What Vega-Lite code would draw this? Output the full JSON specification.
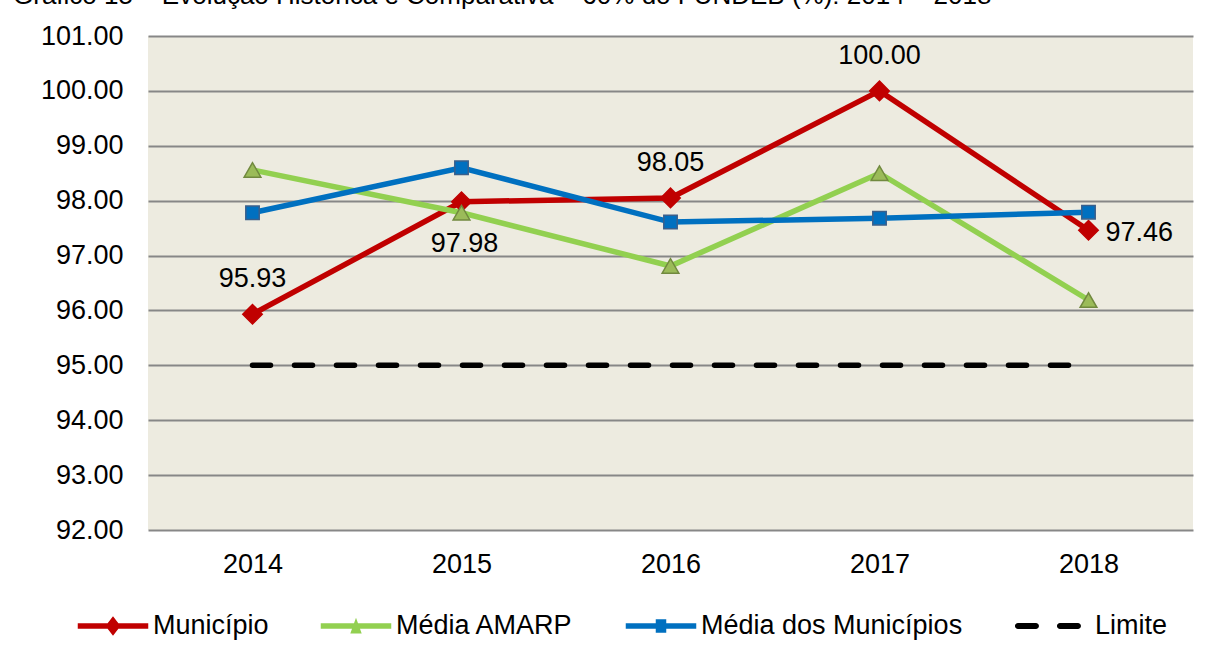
{
  "$schema": "https://vega.github.io/schema/vega-lite/v6.json",
  "width": 1045,
  "height": 494,
  "autosize": {"type": "none"},
  "padding": {"left": 148, "top": 36, "right": 13, "bottom": 141},
  "background": "white",
  "title": {
    "text": "Gráfico 15 – Evolução Histórica e Comparativa – 60% do FUNDEB (%): 2014 – 2018",
    "anchor": "start",
    "frame": "group",
    "dx": -135,
    "offset": 0,
    "dy": 8,
    "baseline": "alphabetic",
    "font": "Liberation Sans",
    "fontSize": 26,
    "fontWeight": "normal",
    "color": "black"
  },
  "config": {
    "view": {"fill": "#EDEBE0", "stroke": null},
    "font": "Liberation Sans",
    "axis": {"labelFont": "Liberation Sans", "labelFontSize": 27, "labelColor": "black"}
  },
  "data": {
    "values": [
      {"year": "2014", "series": "Município", "value": 95.93},
      {"year": "2015", "series": "Município", "value": 97.98},
      {"year": "2016", "series": "Município", "value": 98.05},
      {"year": "2017", "series": "Município", "value": 100.00},
      {"year": "2018", "series": "Município", "value": 97.46},
      {"year": "2014", "series": "Média AMARP", "value": 98.56},
      {"year": "2015", "series": "Média AMARP", "value": 97.78},
      {"year": "2016", "series": "Média AMARP", "value": 96.81},
      {"year": "2017", "series": "Média AMARP", "value": 98.50},
      {"year": "2018", "series": "Média AMARP", "value": 96.19},
      {"year": "2014", "series": "Média dos Municípios", "value": 97.78},
      {"year": "2015", "series": "Média dos Municípios", "value": 98.60},
      {"year": "2016", "series": "Média dos Municípios", "value": 97.61},
      {"year": "2017", "series": "Média dos Municípios", "value": 97.68},
      {"year": "2018", "series": "Média dos Municípios", "value": 97.79},
      {"year": "2014", "series": "Limite", "value": 95},
      {"year": "2015", "series": "Limite", "value": 95},
      {"year": "2016", "series": "Limite", "value": 95},
      {"year": "2017", "series": "Limite", "value": 95},
      {"year": "2018", "series": "Limite", "value": 95}
    ]
  },
  "encoding": {
    "x": {
      "field": "year", "type": "ordinal",
      "scale": {"type": "point", "padding": 0.5},
      "axis": {"title": null, "labelAngle": 0, "domain": false, "ticks": false, "labelPadding": 21, "grid": false}
    },
    "y": {
      "field": "value", "type": "quantitative",
      "scale": {"domain": [92, 101], "nice": false, "zero": false},
      "axis": {"title": null, "format": ".2f", "values": [92, 93, 94, 95, 96, 97, 98, 99, 100, 101], "domain": false, "ticks": false, "labelPadding": 25, "grid": true, "gridColor": "#878787", "gridWidth": 2, "gridOpacity": 1}
    }
  },
  "layer": [
    {
      "transform": [{"filter": "datum.series === 'Limite'"}],
      "mark": {"type": "line", "strokeWidth": 5.5, "strokeDash": [18, 24], "strokeCap": "round"},
      "encoding": {
        "color": {"field": "series", "type": "nominal"}
      }
    },
    {
      "transform": [{"filter": "datum.series !== 'Limite'"}],
      "mark": {"type": "line", "strokeWidth": 5.5},
      "encoding": {
        "color": {
          "field": "series", "type": "nominal",
          "scale": {"domain": ["Município", "Média AMARP", "Média dos Municípios", "Limite"], "range": ["#C00000", "#92D050", "#0070C0", "#000000"]},
          "legend": {
            "title": null,
            "orient": "none",
            "legendX": -50,
            "legendY": 575,
            "direction": "horizontal",
            "symbolSize": 900,
            "labelOffset": 25,
            "columnPadding": 51,
            "labelFont": "Liberation Sans",
            "labelFontSize": 27,
            "labelColor": "black",
            "labelLimit": 0,
            "symbolStrokeWidth": 0,
            "encode": {
              "symbols": {
                "update": {
                  "shape": {"signal": "datum.value === 'Município' ? 'M-2.35,-0.18H2.35V0.18H-2.35Z M0,-0.65L0.5,0L0,0.65L-0.5,0Z' : datum.value === 'Média AMARP' ? 'M-2.35,-0.18H2.35V0.18H-2.35Z M0,-0.55L0.38,0.5L-0.38,0.5Z' : datum.value === 'Média dos Municípios' ? 'M-2.35,-0.18H2.35V0.18H-2.35Z M-0.35,-0.45H0.35V0.45H-0.35Z' : 'M-2.47,-0.2H-1.27A0.2,0.2 0 0 1 -1.27,0.2H-2.47A0.2,0.2 0 0 1 -2.47,-0.2Z M0.33,-0.2H1.53A0.2,0.2 0 0 1 1.53,0.2H0.33A0.2,0.2 0 0 1 0.33,-0.2Z'"},
                  "fill": {"signal": "datum.value === 'Município' ? '#C00000' : datum.value === 'Média AMARP' ? '#92D050' : datum.value === 'Média dos Municípios' ? '#0070C0' : '#000000'"},
                  "strokeWidth": {"value": 0},
                  "opacity": {"value": 1}
                }
              }
            }
          }
        }
      }
    },
    {
      "transform": [{"filter": "datum.series !== 'Limite'"}],
      "mark": {"type": "point", "filled": true, "opacity": 1, "strokeWidth": 1.5},
      "encoding": {
        "shape": {
          "field": "series", "type": "nominal",
          "scale": {"domain": ["Município", "Média AMARP", "Média dos Municípios"], "range": ["diamond", "triangle-up", "square"]},
          "legend": null
        },
        "fill": {
          "field": "series", "type": "nominal",
          "scale": {"domain": ["Município", "Média AMARP", "Média dos Municípios"], "range": ["#C00000", "#9BBB59", "#0070C0"]},
          "legend": null
        },
        "stroke": {
          "field": "series", "type": "nominal",
          "scale": {"domain": ["Município", "Média AMARP", "Média dos Municípios"], "range": ["#C00000", "#71893F", "#3A5F8B"]},
          "legend": null
        },
        "size": {
          "field": "series", "type": "nominal",
          "scale": {"domain": ["Município", "Média AMARP", "Média dos Municípios"], "range": [380, 180, 200]},
          "legend": null
        }
      }
    },
    {
      "transform": [{"filter": "datum.series === 'Município' && (datum.year === '2014' || datum.year === '2016' || datum.year === '2017')"}],
      "mark": {"type": "text", "dy": -35, "fontSize": 27, "font": "Liberation Sans", "color": "black"},
      "encoding": {"text": {"field": "value", "type": "quantitative", "format": ".2f"}}
    },
    {
      "transform": [{"filter": "datum.series === 'Município' && datum.year === '2015'"}],
      "mark": {"type": "text", "dy": 42, "dx": 3, "fontSize": 27, "font": "Liberation Sans", "color": "black"},
      "encoding": {"text": {"field": "value", "type": "quantitative", "format": ".2f"}}
    },
    {
      "transform": [{"filter": "datum.series === 'Município' && datum.year === '2018'"}],
      "mark": {"type": "text", "dx": 17, "dy": 3, "align": "left", "fontSize": 27, "font": "Liberation Sans", "color": "black"},
      "encoding": {"text": {"field": "value", "type": "quantitative", "format": ".2f"}}
    }
  ]
}
